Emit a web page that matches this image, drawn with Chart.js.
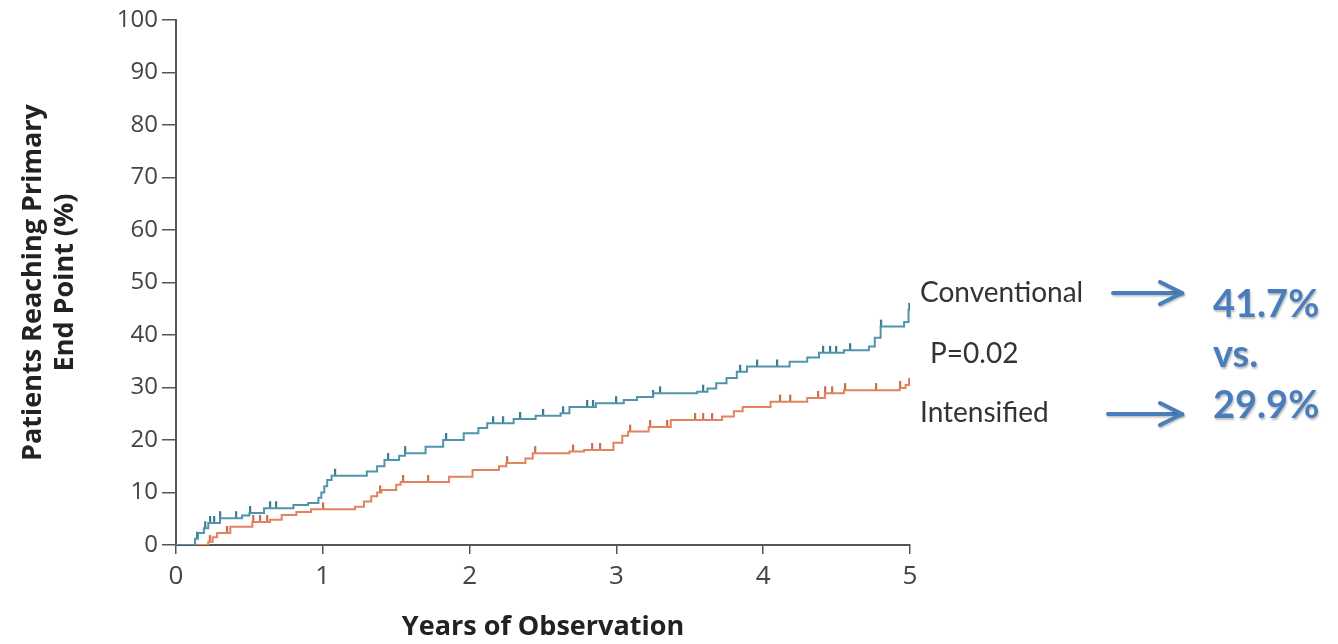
<!DOCTYPE html>
<html>
<head>
<meta charset="utf-8">
<script src="https://cdn.jsdelivr.net/npm/chart.js@4.4.1/dist/chart.umd.min.js"></script>
<style>
html,body{margin:0;padding:0;background:#fff;}
#wrap{width:1338px;height:644px;}
</style>
</head>
<body>
<div id="wrap"><canvas id="c" width="1338" height="644"></canvas></div>
<script>
// ---- data (years, cumulative %) ----
const yTicks = [0,10,20,30,40,50,60,70,80,90,100];
const xTicks = [0,1,2,3,4,5];

const conventionalTimes = [0,0.12,0.13,0.15,0.19,0.22,0.30,0.45,0.50,0.60,0.80,0.90,0.97,0.99,1.01,1.03,1.06,1.30,1.37,1.42,1.52,1.56,1.70,1.82,1.96,2.06,2.12,2.30,2.45,2.62,2.68,2.86,3.05,3.14,3.25,3.55,3.62,3.68,3.75,3.82,3.89,4.18,4.30,4.38,4.55,4.72,4.76,4.80,4.96,4.99,5.00];
const conventionalValues = [0,0,1.2,2.3,3.2,4.2,5.1,5.6,6.1,7.0,7.6,8.0,9.0,10.0,11.2,12.4,13.2,14.0,15.0,16.2,17.0,17.5,18.7,20.0,21.3,22.3,23.2,24.0,24.6,25.1,26.3,27.0,27.6,28.2,28.9,29.2,29.8,30.8,31.8,33.0,34.0,34.9,35.7,36.6,37.1,37.8,39.5,41.6,42.5,44.8,44.8];

const intensifiedTimes = [0,0.20,0.22,0.25,0.28,0.37,0.52,0.64,0.72,0.82,0.92,1.22,1.28,1.33,1.37,1.40,1.50,1.53,1.86,2.02,2.20,2.25,2.38,2.43,2.68,2.78,2.98,3.04,3.08,3.22,3.37,3.72,3.80,3.86,4.05,4.30,4.42,4.55,4.93,4.97,5.00];
const intensifiedValues = [0,0,0.6,1.5,2.3,3.5,4.4,4.8,5.7,6.3,6.8,7.3,8.3,9.3,10.0,10.5,11.5,12.0,13.0,14.3,15.0,15.6,16.5,17.5,17.8,18.1,19.5,20.8,21.6,22.5,23.8,24.5,25.5,26.3,27.3,28.0,28.9,29.5,29.9,30.5,30.5];

const conventionalCensored = [0.143,0.198,0.232,0.259,0.300,0.409,0.504,0.640,0.681,1.083,1.444,1.560,1.839,2.159,2.227,2.343,2.500,2.636,2.800,2.840,2.997,3.249,3.297,3.590,3.842,3.958,4.094,4.407,4.455,4.496,4.591,4.802,4.995];
const intensifiedCensored = [0.23,0.347,0.525,0.572,0.620,1.001,1.390,1.546,1.717,2.255,2.446,2.704,2.834,2.888,3.093,3.229,3.345,3.535,3.590,3.651,4.114,4.183,4.373,4.421,4.469,4.557,4.768,4.932,4.995];

const seriesNames = ['Conventional','Intensified'];
const pValueText = 'P=0.02';
const resultTexts = ['41.7%','vs.','29.9%'];
const xTitle = 'Years of Observation';
const yTitle = ['Patients Reaching Primary','End Point (%)'];

// ---- helpers ----
function toPoints(ts, vs){ return ts.map((t,i)=>({x:t,y:vs[i]})); }
function valueAt(ts, vs, t){ let v = vs[0]; for(let i=0;i<ts.length;i++){ if(ts[i] <= t) v = vs[i]; } return v; }
function censorPoints(cts, ts, vs){ return cts.map(t=>({x:t,y:valueAt(ts,vs,t)})); }
function tickImage(color){
  const cv = document.createElement('canvas');
  cv.width = 4; cv.height = 16;
  const g = cv.getContext('2d');
  g.fillStyle = color;
  g.fillRect(1,1,2.2,7);
  return cv;
}

const blue = '#4f94ad';
const red = '#e2825f';
const blueDark = '#3c7a92';
const redDark = '#cc6c4f';
const arrowBlue = '#4a7ebb';
const axisColor = '#555';

const annotations = {
  id:'annotations',
  afterDraw(chart){
    const ctx = chart.ctx;
    const ca = chart.chartArea;
    const x0 = ca.right;
    ctx.save();
    ctx.fillStyle = '#333';
    ctx.textAlign = 'left';
    ctx.textBaseline = 'alphabetic';
    ctx.font = '400 28px Lato';
    ctx.fillText(seriesNames[0], x0 + 10, 302);
    ctx.fillText(pValueText, x0 + 20, 363);
    ctx.fillText(seriesNames[1], x0 + 10, 422);

    // arrows
    ctx.strokeStyle = arrowBlue;
    ctx.lineWidth = 4;
    ctx.lineCap = 'round';
    ctx.lineJoin = 'round';
    ctx.shadowColor = 'rgba(0,0,0,0.25)';
    ctx.shadowOffsetX = 1; ctx.shadowOffsetY = 1.5; ctx.shadowBlur = 2;
    function arrow(xa, xb, y){
      ctx.beginPath(); ctx.moveTo(xa,y); ctx.lineTo(xb,y); ctx.stroke();
      ctx.beginPath(); ctx.moveTo(xb-22,y-11); ctx.lineTo(xb,y); ctx.lineTo(xb-22,y+11); ctx.stroke();
    }
    arrow(x0 + 203, x0 + 272, 293);
    arrow(x0 + 198, x0 + 272, 414);

    ctx.fillStyle = arrowBlue;
    ctx.font = '700 38px Lato';
    ctx.fillText(resultTexts[0], x0 + 303, 317);
    ctx.fillText(resultTexts[1], x0 + 303, 367);
    ctx.fillText(resultTexts[2], x0 + 303, 418);
    ctx.restore();
  }
};

new Chart(document.getElementById('c'), {
  type:'line',
  data:{
    datasets:[
      {label:seriesNames[0], data:toPoints(conventionalTimes, conventionalValues), borderColor:blue, borderWidth:2, stepped:true, pointRadius:0, fill:false},
      {label:seriesNames[1], data:toPoints(intensifiedTimes, intensifiedValues), borderColor:red, borderWidth:2, stepped:true, pointRadius:0, fill:false},
      {label:seriesNames[0]+' censored', data:censorPoints(conventionalCensored, conventionalTimes, conventionalValues), showLine:false, pointStyle:tickImage(blueDark), pointRadius:3, pointHoverRadius:3},
      {label:seriesNames[1]+' censored', data:censorPoints(intensifiedCensored, intensifiedTimes, intensifiedValues), showLine:false, pointStyle:tickImage(redDark), pointRadius:3, pointHoverRadius:3}
    ]
  },
  options:{
    responsive:false,
    animation:false,
    layout:{padding:{top:20,right:428,left:0,bottom:0}},
    plugins:{legend:{display:false}, tooltip:{enabled:false}},
    scales:{
      x:{
        type:'linear', min:0, max:5,
        afterBuildTicks(s){ s.ticks = xTicks.map(v=>({value:v})); },
        afterFit(s){ s.height = 99; },
        grid:{display:true, drawOnChartArea:false, drawTicks:true, tickLength:9, color:axisColor, lineWidth:1.5},
        border:{display:true, color:axisColor, width:2},
        ticks:{color:'#444', font:{family:'Open Sans', size:26}, padding:7, maxRotation:0},
        title:{display:true, text:xTitle, color:'#222', font:{family:'Open Sans', size:27, weight:'700'}, padding:{top:0,bottom:0}}
      },
      y:{
        type:'linear', min:0, max:100,
        afterBuildTicks(s){ s.ticks = yTicks.map(v=>({value:v})); },
        afterFit(s){ s.width = 176; },
        grid:{display:true, drawOnChartArea:false, drawTicks:true, tickLength:14, color:axisColor, lineWidth:1.5},
        border:{display:true, color:axisColor, width:2},
        ticks:{color:'#444', font:{family:'Open Sans', size:24}, padding:4},
        title:{display:true, text:yTitle, color:'#222', font:{family:'Open Sans', size:27, weight:'700', lineHeight:1.2}, padding:{top:17,bottom:0}}
      }
    }
  },
  plugins:[annotations]
});
</script>
</body>
</html>
